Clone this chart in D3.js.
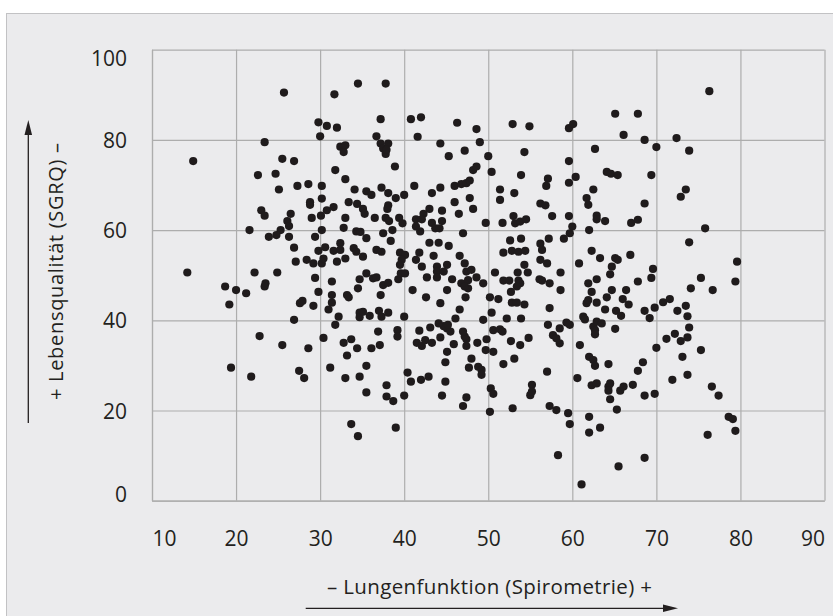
<!DOCTYPE html>
<html>
<head>
<meta charset="utf-8">
<script src="https://cdn.jsdelivr.net/npm/d3@7"></script>
<style>
body{margin:0;background:#fff;}
svg text{font-family:"Open Sans",sans-serif;fill:#231f20;}
</style>
</head>
<body>
<div id="chart"></div>
<script>
// Lungenfunktion (x) und SGRQ-Lebensqualität (y), paarweise
var lungX = [
	25.7,31.7,34.5,29.8,30.8,32.0,30.0,23.4,32.4,33.0, 32.8,14.9,25.5,26.9,31.8,22.6,24.7,33.0,25.1,27.3,
	28.6,30.2,34.1,30.2,28.8,28.8,33.4,34.4,23.0,23.4, 30.8,31.6,26.5,26.1,26.3,29.0,30.1,33.0,21.6,25.3,
	24.8,23.9,26.3,29.4,30.2,32.8,34.3,26.9,29.8,30.6, 31.6,32.4,32.4,33.0,34.0,
	37.8,37.2,36.7,37.2,37.5,38.1,37.8,37.9,40.8,42.0, 41.6,46.3,48.6,49.0,44.3,47.2,45.3,38.9,50.0,50.4,
	48.2,48.6,52.9,54.9,59.6,60.1,62.7,54.3,59.6,53.9, 60.4,57.1,56.9,59.6,62.5,61.7,61.9,35.5,36.1,37.3,
	38.1,39.0,40.0,41.2,43.3,44.3,46.0,46.8,47.4,47.8, 46.0,47.8,48.2,51.4,51.4,53.1,
	35.1,35.3,36.5,38.1,38.0,37.8,38.2,39.4,39.8,34.8, 35.5,37.5,38.6,38.4,41.4,42.3,42.1,43.0,43.3,43.7,
	44.2,44.5,44.5,41.9,41.4,46.5,47.0,49.7,51.7,53.0, 53.2,53.8,54.5,56.2,56.8,57.6,59.6,60.0,59.7,62.0,
	52.6,53.9,56.2,56.4,57.2,59.0,62.3,51.8,52.8,53.6, 54.4,36.7,37.3,39.5,40.1,41.8,43.5,45.3,46.6,35.1,
	76.3,65.1,67.8,66.1,68.6,70.0,72.4,73.9,64.1,64.6, 65.4,69.4,73.5,72.9,68.6,62.9,62.9,63.9,67.0,67.8,
	75.8,73.9,63.3,65.1,66.9,79.6,
	14.2,18.7,20.0,19.2,21.2,22.2,24.9,23.5,23.4,27.1, 28.4,29.2,30.2,30.4,29.4,29.8,27.6,27.9,29.2,31.4,
	31.4,31.4,31.0,32.2,31.8,33.2,33.4,32.0,34.3,34.7, 34.7,34.5,34.7,26.9,22.8,25.5,28.6,30.4,32.8,33.7,
	34.4,33.2,19.4,21.8,27.5,28.1,31.2,33.0,34.7,33.7, 34.5,
	39.7,39.5,41.4,42.1,43.0,44.1,43.9,43.9,45.1,44.7, 47.2,47.4,48.0,42.7,43.9,45.7,46.8,47.6,48.6,47.6,
	47.2,49.4,50.8,56.2,57.0,54.3,54.7,53.5,51.8,52.5, 53.6,53.8,53.4,52.7,56.1,56.4,57.3,58.6,58.6,60.8,
	61.9,62.3,62.9,61.7,61.9,62.9,50.2,51.2,52.8,53.4, 54.3,57.3,50.4,52.2,53.9,49.4,57.1,58.5,59.3,59.7,
	61.3,61.5,62.5,62.7,62.9,57.7,58.1,58.5,54.8,53.8, 52.7,50.6,51.4,51.7,49.8,49.7,50.6,48.7,47.4,47.4,
	47.2,47.0,45.9,45.1,45.5,44.7,45.2,44.1,44.3,43.1, 41.8,41.5,42.1,42.5,43.3,45.1,44.9,46.6,46.1,44.3,
	45.1,47.3,42.6,41.0,40.0,39.2,39.2,36.9,37.1,35.1, 35.9,37.0,37.3,38.1,35.5,36.3,36.7,37.5,38.1,37.2,
	39.3,39.6,40.1,36.1,35.5,35.5,37.9,37.9,38.7,40.0, 40.4,40.8,42.0,42.9,44.9,44.5,47.4,47.0,48.0,47.7,
	48.8,49.2,49.2,50.3,50.6,50.2,52.9,51.8,53.1,57.0, 55.2,55.0,55.2,57.3,58.1,59.5,59.7,60.6,62.0,62.0,
	63.3,58.3,62.3,62.9,62.0,62.5,62.7,39.0,
	79.4,75.3,76.7,74.1,65.4,64.7,64.5,69.6,69.4,67.8, 64.7,66.4,64.1,66.0,66.7,63.9,65.2,65.8,68.6,69.2,
	69.8,70.8,71.6,72.5,73.5,73.7,63.5,62.7,65.1,60.9, 71.2,72.2,72.9,73.7,73.9,70.0,75.3,73.1,64.3,68.4,
	67.8,64.3,64.5,64.3,64.5,65.7,66.1,67.2,68.6,69.8, 71.9,73.7,76.6,77.4,65.3,78.6,79.1,79.4,76.1,68.6,
	65.5,61.1
];
var sgrqY = [
	90.5,90.1,92.5,83.9,83.1,82.7,80.8,79.5,78.5,78.8, 77.3,75.3,75.8,75.3,73.3,72.2,72.5,71.3,69.0,69.8,
	70.2,69.8,69.0,67.0,66.2,65.6,66.2,65.8,64.4,63.2, 64.4,65.1,63.6,62.0,60.9,62.7,63.2,62.7,60.0,60.0,
	58.9,58.5,58.5,58.5,60.0,60.5,59.7,56.1,55.4,56.2, 55.4,57.1,55.6,53.7,56.0,
	92.5,84.6,80.8,79.2,78.1,79.2,76.9,77.8,84.6,85.0, 80.7,83.8,82.4,79.5,79.2,77.6,76.4,74.1,76.4,72.9,
	73.3,74.1,83.5,83.0,82.6,83.5,78.0,77.3,75.3,72.2, 71.8,71.4,69.8,70.5,69.0,67.1,65.6,68.6,67.8,69.4,
	68.2,67.1,67.8,69.8,68.2,69.4,69.8,70.2,70.4,71.0, 66.2,67.1,64.7,69.0,66.7,68.2,
	64.7,63.6,62.7,65.5,64.7,62.7,62.0,62.7,61.5,59.6, 58.2,59.3,60.0,57.6,62.4,63.6,62.4,64.7,61.6,60.4,
	60.4,64.3,62.0,59.7,60.8,63.6,59.3,61.6,61.6,63.1, 61.5,61.9,62.4,65.9,65.5,63.1,63.1,60.8,59.3,60.0,
	57.7,58.1,57.0,55.6,58.1,58.1,55.4,55.0,55.4,55.2, 55.4,55.6,55.2,55.0,54.5,55.0,54.3,56.5,54.3,54.1,
	90.8,85.8,85.8,81.1,80.0,78.4,80.4,77.6,72.9,72.5, 72.2,72.2,69.0,67.4,65.9,63.2,62.4,62.0,61.6,62.3,
	60.4,57.3,53.8,53.8,54.5,53.0,
	50.6,47.5,46.7,43.5,46.0,50.6,50.6,48.2,47.5,53.0, 53.4,52.6,52.6,53.7,49.4,46.3,43.8,44.3,43.2,48.6,
	45.6,43.9,42.4,40.8,39.0,45.6,45.1,53.0,55.2,41.7, 40.7,47.1,49.1,40.1,36.5,34.5,33.8,36.1,35.0,35.8,
	33.8,32.2,29.5,27.5,28.8,27.2,29.5,27.2,27.5,17.0, 14.3,
	53.4,52.3,53.4,51.9,57.2,57.2,51.9,50.8,52.3,50.8, 52.6,50.8,51.2,49.5,49.5,49.1,48.2,48.9,49.5,47.1,
	47.5,48.2,50.6,53.4,52.6,52.3,50.6,50.6,48.8,48.8, 48.8,48.2,47.5,46.3,49.1,48.8,48.2,50.6,46.7,52.6,
	48.2,46.3,49.1,43.8,44.5,43.9,45.1,44.7,43.9,43.9, 43.5,42.7,41.7,40.4,40.4,40.1,39.0,38.2,39.5,39.0,
	40.8,40.2,38.6,37.8,39.7,36.7,36.0,34.9,36.1,34.5, 35.4,37.8,38.0,37.5,35.8,33.4,33.0,35.0,35.8,34.3,
	36.4,37.5,34.7,38.2,37.5,38.7,39.0,39.3,36.2,38.4, 37.7,35.0,34.3,35.6,35.0,33.0,30.7,42.4,40.4,43.8,
	46.7,45.1,45.1,46.7,40.8,37.8,36.4,37.5,34.5,41.9, 41.0,42.1,40.8,41.7,50.4,49.3,49.5,47.8,48.3,45.6,
	49.1,50.4,50.4,33.8,29.9,24.0,25.6,23.1,22.1,23.3, 28.4,26.4,26.8,27.5,26.4,23.3,22.9,21.0,31.5,29.5,
	29.7,29.0,27.9,24.9,23.7,19.7,20.5,30.3,31.5,28.6, 25.7,23.4,24.2,21.0,20.1,19.4,17.0,27.2,18.6,15.1,
	16.2,10.1,25.6,26.0,31.9,31.2,29.9,16.2,
	48.6,49.4,46.7,47.1,53.4,51.9,50.2,51.4,49.4,48.6, 46.7,46.7,45.1,44.7,43.5,42.4,42.1,41.0,42.1,40.5,
	42.8,44.0,44.7,42.1,43.2,40.9,39.3,36.9,38.1,34.5, 35.9,37.0,35.4,36.2,38.4,33.9,33.4,31.9,30.3,30.7,
	28.8,25.3,26.0,24.4,22.5,24.4,25.3,25.7,23.3,23.7, 26.8,27.9,25.3,23.3,20.2,18.6,18.1,15.5,14.6,9.5,
	7.6,3.6
];
var xTicks = [10, 20, 30, 40, 50, 60, 70, 80, 90];
var yTicks = [0, 20, 40, 60, 80, 100];
var xTitle = "– Lungenfunktion (Spirometrie) +";
var yTitle = "+ Lebensqualität (SGRQ) –";

var W = 833, H = 616;
var gridColor = "#adadad";

var svg = d3.select("#chart").append("svg").attr("width", W).attr("height", H);

// Hintergrundkasten
svg.append("rect")
	.attr("x", 6.5).attr("y", 13.5).attr("width", W).attr("height", H)
	.attr("fill", "#ebebed").attr("stroke", "#c2c2c4");

var x = d3.scaleLinear().domain([10, 90]).range([152, 824.5]);
var y = d3.scaleLinear().domain([0, 100]).range([500.7, 49.7]);

var plotH = y(0) - y(100), plotW = x(90) - x(10);

// Gitter
var gx = svg.append("g").attr("transform", "translate(0," + y(0) + ")")
	.call(d3.axisBottom(x).tickValues(xTicks).tickSize(-plotH).tickSizeOuter(0).tickFormat(""));
var gy = svg.append("g").attr("transform", "translate(" + x(10) + ",0)")
	.call(d3.axisLeft(y).tickValues(yTicks).tickSize(-plotW).tickSizeOuter(0).tickFormat(""));
[gx, gy].forEach(function(g){
	g.selectAll("line").attr("stroke", gridColor).attr("stroke-width", 1.2);
	g.select(".domain").attr("stroke", gridColor).attr("stroke-width", 1.2);
});

// Achsenbeschriftungen
var ax = svg.append("g").attr("transform", "translate(0," + y(0) + ")")
	.call(d3.axisBottom(x).tickValues(xTicks).tickSize(0).tickPadding(0));
ax.select(".domain").remove();
ax.attr("font-size", null).attr("font-family", null);
ax.selectAll("text")
	.attr("y", 45.3).attr("dy", null)
	.style("font-size", "21px")
	.attr("text-anchor", function(d){ return d === 10 ? "start" : d === 90 ? "end" : "middle"; });

var ay = svg.append("g").attr("transform", "translate(127,0)")
	.call(d3.axisLeft(y).tickValues(yTicks).tickSize(0).tickPadding(0));
ay.select(".domain").remove();
ay.attr("font-size", null).attr("font-family", null);
ay.selectAll("text")
	.attr("x", 0).attr("dy", null)
	.attr("y", function(d){ return d === 100 ? 15.3 : d === 0 ? 0.5 : 7.5; })
	.style("font-size", "21px");

// Punkte
var pts = d3.zip(lungX, sgrqY);
svg.append("g").selectAll("circle").data(pts).join("circle")
	.attr("cx", function(d){ return x(d[0]); })
	.attr("cy", function(d){ return y(d[1]); })
	.attr("r", 4.1)
	.attr("fill", "#1f1b1c");

// Achsentitel mit Pfeilen
svg.append("text").attr("x", 489.5).attr("y", 594.3)
	.attr("text-anchor", "middle").style("font-size", "20.5px")
	.attr("textLength", 325).attr("lengthAdjust", "spacing").text(xTitle);
svg.append("line").attr("x1", 305.7).attr("x2", 666).attr("y1", 608.3).attr("y2", 608.3)
	.attr("stroke", "#231f20").attr("stroke-width", 1.3);
svg.append("path").attr("d", "M678,608.3L663,604.5L663,612.1Z").attr("fill", "#231f20");

svg.append("text").attr("transform", "translate(62.7,271.5) rotate(-90)")
	.attr("text-anchor", "middle").style("font-size", "20px")
	.attr("textLength", 257).attr("lengthAdjust", "spacing").text(yTitle);
svg.append("line").attr("x1", 28.3).attr("x2", 28.3).attr("y1", 423).attr("y2", 133)
	.attr("stroke", "#231f20").attr("stroke-width", 1.3);
svg.append("path").attr("d", "M28.3,120L24.5,135L32.1,135Z").attr("fill", "#231f20");
</script>
</body>
</html>
